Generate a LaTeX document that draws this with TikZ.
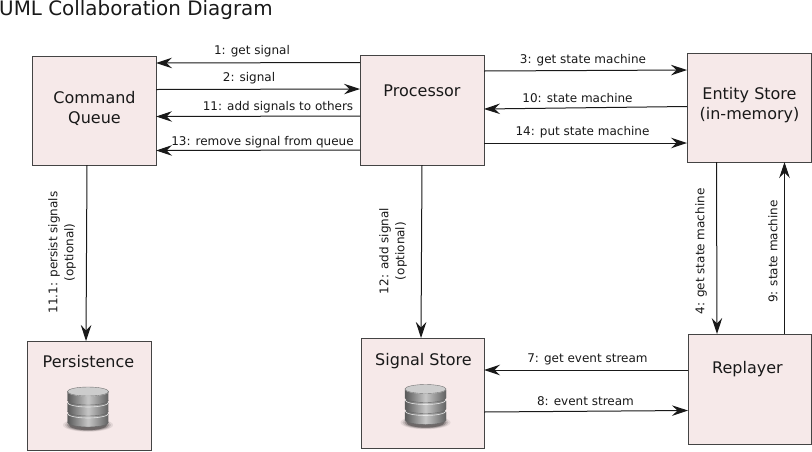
\documentclass[tikz,border=0pt]{standalone}
\usepackage{fontspec}
\setmainfont{DejaVu Sans}
\usetikzlibrary{arrows.meta,calc}
\definecolor{boxfill}{HTML}{F6E9E9}
\definecolor{boxline}{HTML}{444444}
\tikzset{
  box/.style={draw=boxline,line width=1pt,fill=boxfill,minimum width=#1,inner sep=0pt,outer sep=0pt},
  title/.style={font=\fontsize{16}{20}\selectfont,align=center,text=black!90,inner sep=0pt},
  msg/.style={font=\fontsize{12}{16}\selectfont,align=center,text=black!90,inner sep=0pt},
  conn/.style={draw=black!90,line width=1pt,-{Stealth[length=16pt,width=10.5pt,inset=5.5pt]}},
  dbicon/.pic={
    \foreach \rr/\oo in {25/.08,23/.12,21/.2,19/.3}{
      \fill[black,opacity=\oo] (0,13.5) ellipse[x radius=\rr,y radius=\rr*0.27];
    }
    \foreach \yy in {11,0,-11}{
      \path[left color=black!65,right color=black!62,middle color=black!22,draw=black!60,line width=.4pt]
        (-20.5,\yy-8) -- (-20.5,\yy) arc[x radius=20.5,y radius=4.5,start angle=180,end angle=0] -- (20.5,\yy-8)
        arc[x radius=20.5,y radius=4.5,start angle=0,end angle=-180] -- cycle;
      \draw[black!10,line width=.6pt] (-20.5,\yy-9) arc[x radius=20.5,y radius=4.5,start angle=180,end angle=0];
    }
    \path[fill=black!20,draw=black!55,line width=.4pt] (0,-20) ellipse[x radius=20.5,y radius=4.5];
  }
}
\begin{document}
\begin{tikzpicture}[x=1pt,y=-1pt]
\useasboundingbox (0,0) rectangle (812,451);
\fill[white] (0,0) rectangle (812,451);
\node[anchor=base west,font=\fontsize{19.9}{24}\selectfont,text=black!90,inner sep=0pt] (heading) at (-1,15) {UML Collaboration Diagram};

\node[box=124pt,minimum height=109pt] (cq) at (94,110.5) {};
\node[box=124pt,minimum height=110pt] (pr) at (422,110) {};
\node[box=124pt,minimum height=109pt] (es) at (749,107.5) {};
\node[box=124pt,minimum height=109pt] (pe) at (89,395.5) {};
\node[box=123pt,minimum height=110pt] (ss) at (422.5,393) {};
\node[box=123pt,minimum height=110pt] (re) at (749.5,389) {};

\node[title] (cqt) at (94.5,108) {Command\\Queue};
\node[title] (prt) at (422,91) {Processor};
\node[title] (est) at (749.5,105) {Entity Store\\(in-memory)};
\node[title] (pet) at (88.5,362) {Persistence};
\node[title] (sst) at (423.5,361) {Signal Store};
\node[title] (ret) at (747.5,369) {Replayer};

\pic at (88,411.5) {dbicon};
\pic at (425.5,409) {dbicon};

\draw[conn] ([yshift=47.5pt]pr.west) -- ([yshift=47.5pt]cq.east);
\draw[conn] ([yshift=21pt]cq.east) -- ([yshift=21pt]pr.west);
\draw[conn] ([yshift=-6pt]pr.west) -- ([yshift=-6pt]cq.east);
\draw[conn] ([yshift=-40pt]pr.west) -- ([yshift=-40pt]cq.east);
\draw[conn] ([yshift=39pt]pr.east) -- ([yshift=37.5pt]es.west);
\draw[conn] ([yshift=1pt]es.west) -- ([yshift=1pt]pr.east);
\draw[conn] ([yshift=-33pt]pr.east) -- ([yshift=-35.5pt]es.west);
\draw[conn] ([xshift=-7pt]cq.south) -- ([xshift=-3pt]pe.north);
\draw[conn] (pr.south) -- ([xshift=-1.5pt]ss.north);
\draw[conn] ([xshift=-32.5pt]es.south) -- ([xshift=-32.5pt]re.north);
\draw[conn] ([xshift=35pt]re.north) -- ([xshift=35.5pt]es.south);
\draw[conn] ([yshift=19pt]re.west) -- ([yshift=23pt]ss.east);
\draw[conn] ([yshift=-19pt]ss.east) -- ([yshift=-21.5pt]re.west);

\node[msg] (m1) at (252,51) {1: get signal};
\node[msg] (m2) at (249,78) {2: signal};
\node[msg] (m11) at (278,107) {11: add signals to others};
\node[msg] (m13) at (262.5,142) {13: remove signal from queue};
\node[msg] (m3) at (583,60) {3: get state machine};
\node[msg] (m10) at (577.5,98) {10: state machine};
\node[msg] (m14) at (582.5,132) {14: put state machine};
\node[msg] (m7) at (587.5,359) {7: get event stream};
\node[msg] (m8) at (585.5,401) {8: event stream};
\node[msg,rotate=90] (m111) at (62,252.5) {11.1: persist signals\\(optional)};
\node[msg,rotate=90] (m12) at (393,251) {12: add signal\\(optional)};
\node[msg,rotate=90] (m4) at (701,251.5) {4: get state machine};
\node[msg,rotate=90] (m9) at (773,251.5) {9: state machine};
\end{tikzpicture}
\end{document}
